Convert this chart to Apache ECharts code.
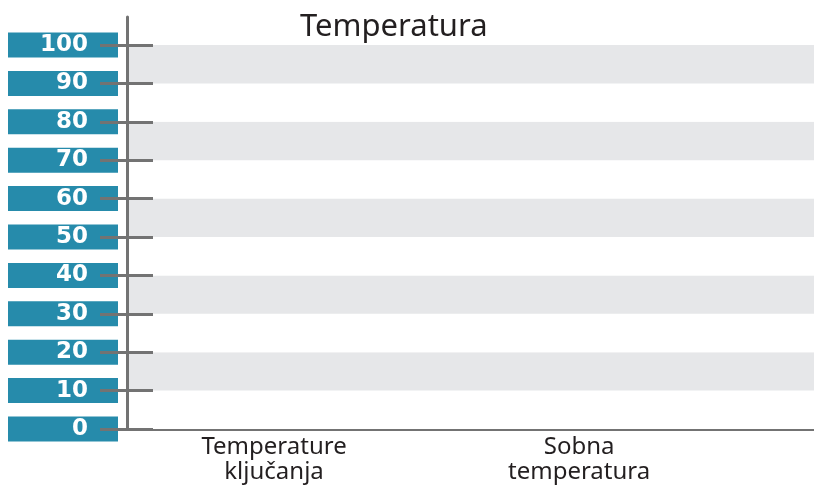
<!DOCTYPE html>
<html>
<head>
<meta charset="utf-8">
<script src="https://cdn.jsdelivr.net/npm/echarts@6/dist/echarts.min.js"></script>
<style>html,body{margin:0;padding:0;background:#fff}#c{width:814px;height:486px}</style>
</head>
<body>
<div id="c"></div>
<script>
var titleText = 'Temperatura';
var categories = ['Temperature\nključanja', 'Sobna\ntemperatura'];
var categoryPositions = [0, 1];
var yTicks = [0, 10, 20, 30, 40, 50, 60, 70, 80, 90, 100];
var yMin = 0, yMax = 107.3, yInterval = 10;

var chart = echarts.init(document.getElementById('c'));
var axisGray = '#737373';
var commonY = { type: 'value', min: yMin, max: yMax, interval: yInterval, position: 'left', offset: 0 };
chart.setOption({
  animation: false,
  title: {
    text: titleText, left: 295, top: 7,
    textStyle: { fontFamily: 'Noto Sans', fontSize: 31, fontWeight: 'normal', color: '#231f20' }
  },
  grid: { left: 127, right: 0, top: 17, bottom: 57, containLabel: false },
  xAxis: {
    type: 'value', min: -0.482, max: 1.77,
    axisLine: { show: true, onZero: false, lineStyle: { color: axisGray, width: 3 } },
    axisTick: { show: false },
    splitLine: { show: false },
    axisLabel: {
      customValues: categoryPositions,
      formatter: function (v) { return categories[Math.round(v)]; },
      fontFamily: 'Noto Sans', fontSize: 24, lineHeight: 25, color: '#231f20', margin: 6
    }
  },
  yAxis: [
    Object.assign({}, commonY, {
      z: 1,
      axisLine: { show: true, onZero: false, lineStyle: { color: axisGray, width: 3 } },
      axisTick: { show: false },
      splitLine: { show: false },
      splitArea: { show: true, areaStyle: { color: ['#ffffff', '#e6e7e9'] } },
      axisLabel: {
        customValues: yTicks,
        margin: 9,
        width: 80,
        align: 'right',
        backgroundColor: '#268bab',
        padding: [4, 30, 1, 0],
        lineHeight: 20,
        color: '#ffffff',
        fontFamily: 'DejaVu Sans', fontWeight: 'bold', fontSize: 23
      }
    }),
    Object.assign({}, commonY, {
      z: 5,
      axisLine: { show: false, onZero: false },
      splitLine: { show: false },
      axisLabel: { show: false },
      axisTick: { show: true, inside: false, length: 27, customValues: yTicks, lineStyle: { color: axisGray, width: 3 } }
    }),
    Object.assign({}, commonY, {
      z: 5,
      axisLine: { show: false, onZero: false },
      splitLine: { show: false },
      axisLabel: { show: false },
      axisTick: { show: true, inside: true, length: 26, customValues: yTicks, lineStyle: { color: axisGray, width: 3 } }
    })
  ],
  series: []
});
</script>
</body>
</html>
